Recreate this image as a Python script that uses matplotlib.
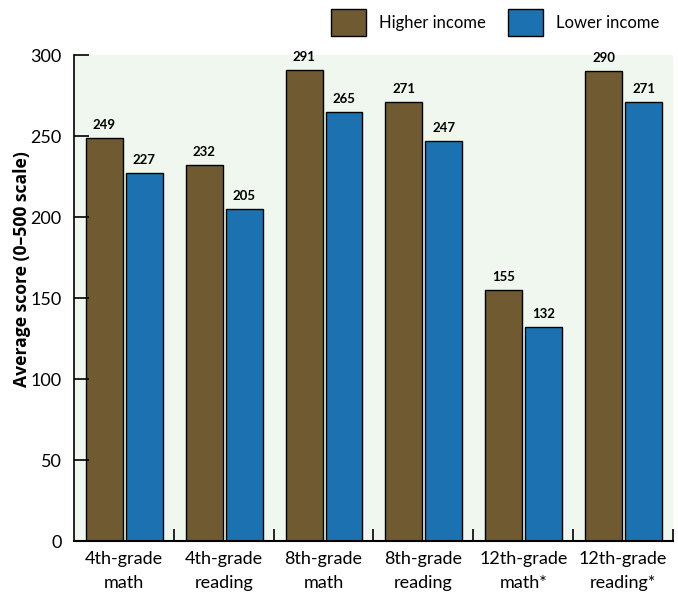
import numpy as np
import matplotlib.pyplot as plt
from matplotlib.patches import Patch

plt.rcParams['font.family'] = ['Lato', 'DejaVu Sans']

# Data
categories = ["4th-grade\nmath", "4th-grade\nreading", "8th-grade\nmath",
              "8th-grade\nreading", "12th-grade\nmath*", "12th-grade\nreading*"]
higher = [249, 232, 291, 271, 155, 290]
lower = [227, 205, 265, 247, 132, 271]

brown = '#6f5a31'
blue = '#1c71b1'

fig = plt.figure(figsize=(6.78, 5.94), dpi=100)
ax = fig.add_axes([0.109, 0.0892, 0.8836, 0.8182])
ax.set_facecolor('#f0f7ef')

x = np.arange(len(categories))
w = 0.37
b1 = ax.bar(x - 0.195, higher, w, color=brown, edgecolor='black', linewidth=1)
b2 = ax.bar(x + 0.205, lower, w, color=blue, edgecolor='black', linewidth=1)

for bars, vals in [(b1, higher), (b2, lower)]:
    for r, v in zip(bars, vals):
        ax.annotate(str(v), (r.get_x() + r.get_width() / 2, v),
                    xytext=(0, 5), textcoords='offset points',
                    ha='center', va='bottom', fontsize=9.5, fontweight='bold')

ax.set_xlim(-0.5, 5.5)
ax.set_ylim(0, 300)
ax.set_yticks(np.arange(0, 301, 50))
ax.tick_params(axis='y', direction='in', length=11, width=1.2, labelsize=13, pad=9)
ax.set_xticks(x)
ax.set_xticklabels(categories, fontsize=13, linespacing=1.6)
ax.tick_params(axis='x', length=0, pad=7)
ax.set_xticks(np.arange(0.5, 6, 1), minor=True)
ax.tick_params(axis='x', which='minor', direction='in', length=9, width=1.2)

for s in ['top', 'right']:
    ax.spines[s].set_visible(False)
ax.spines['left'].set_linewidth(1.2)
ax.spines['bottom'].set_linewidth(1.5)

ax.set_ylabel("Average score (0\u2013500 scale)", fontsize=12.6, fontweight='bold',
              family=['Open Sans', 'DejaVu Sans'])
ax.yaxis.set_label_coords(-0.072, 0.56)

handles = [Patch(facecolor=brown, edgecolor='black', label='Higher income'),
           Patch(facecolor=blue, edgecolor='black', label='Lower income')]
fig.legend(handles=handles, loc='upper right', bbox_to_anchor=(0.995, 1.01), ncol=2,
           frameon=False, fontsize=12, handlelength=2.1, handleheight=2.1,
           handletextpad=0.8, columnspacing=1.3)

fig.savefig('out.png', dpi=100)
